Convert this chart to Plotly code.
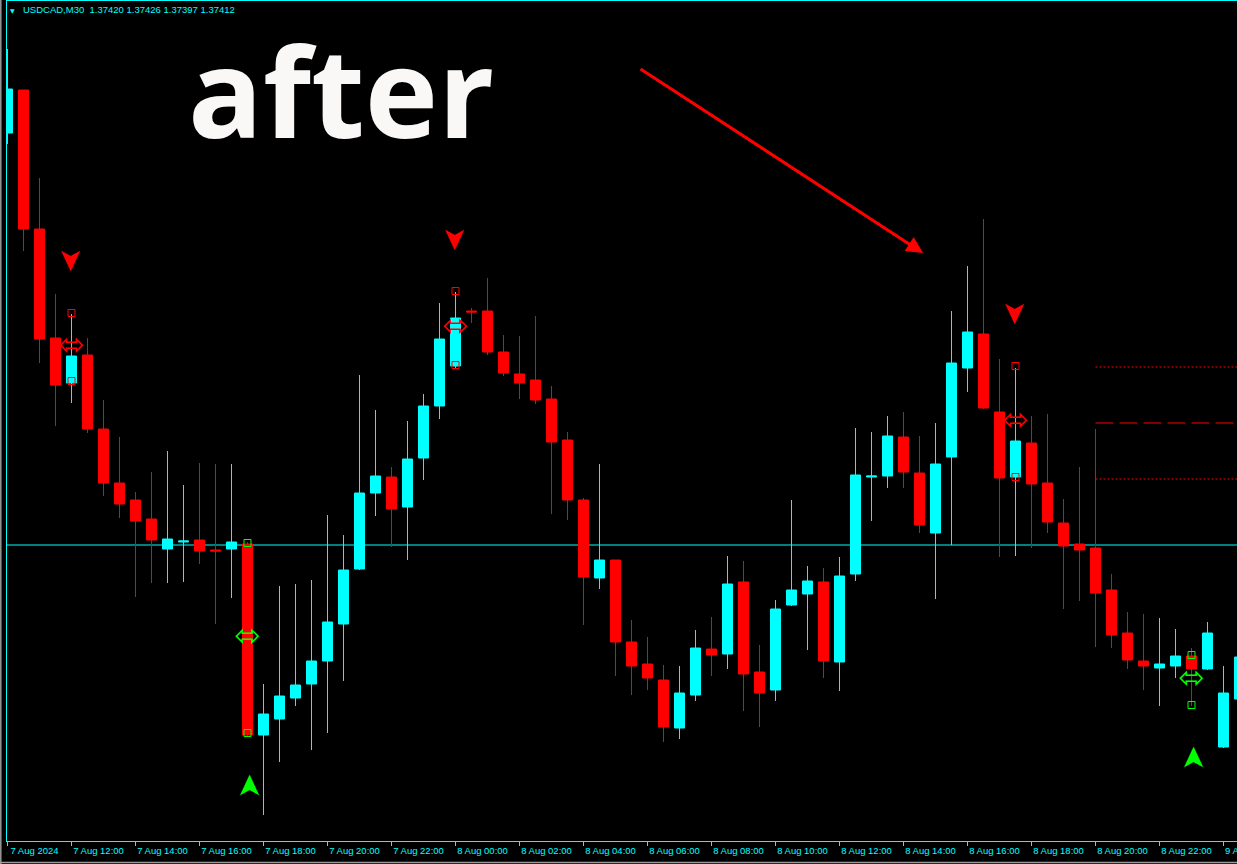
import plotly.graph_objects as go

# ---------------- data (USDCAD, M30) ----------------
opens = [1.37767, 1.37810, 1.37671, 1.37562, 1.37517, 1.37545, 1.37471, 1.37417, 1.37400, 1.37381,
         1.37351, 1.37358, 1.37360, 1.37350, 1.37351, 1.37356, 1.37165, 1.37181, 1.37202, 1.37216,
         1.37239, 1.37276, 1.37331, 1.37407, 1.37423, 1.37393, 1.37442, 1.37494, 1.37534, 1.37589,
         1.37589, 1.37548, 1.37526, 1.37520, 1.37501, 1.37460, 1.37400, 1.37322, 1.37340, 1.37258,
         1.37236, 1.37220, 1.37172, 1.37205, 1.37251, 1.37246, 1.37318, 1.37228, 1.37210, 1.37295,
         1.37306, 1.37318, 1.37238, 1.37326, 1.37423, 1.37424, 1.37463, 1.37427, 1.37367, 1.37443,
         1.37532, 1.37566, 1.37488, 1.37423, 1.37457, 1.37417, 1.37377, 1.37356, 1.37352, 1.37310,
         1.37267, 1.37239, 1.37232, 1.37234, 1.37244, 1.37231, 1.37153, 1.37201]
highs = [1.37851, 1.37810, 1.37722, 1.37606, 1.37586, 1.37562, 1.37500, 1.37463, 1.37408, 1.37428,
         1.37449, 1.37415, 1.37437, 1.37436, 1.37436, 1.37358, 1.37216, 1.37314, 1.37316, 1.37320,
         1.37385, 1.37365, 1.37525, 1.37490, 1.37433, 1.37479, 1.37506, 1.37597, 1.37608, 1.37592,
         1.37622, 1.37565, 1.37564, 1.37584, 1.37514, 1.37468, 1.37402, 1.37436, 1.37340, 1.37280,
         1.37263, 1.37235, 1.37234, 1.37270, 1.37283, 1.37344, 1.37339, 1.37255, 1.37300, 1.37400,
         1.37334, 1.37332, 1.37343, 1.37472, 1.37468, 1.37484, 1.37488, 1.37464, 1.37477, 1.37589,
         1.37634, 1.37681, 1.37541, 1.37532, 1.37484, 1.37486, 1.37401, 1.37433, 1.37471, 1.37326,
         1.37288, 1.37286, 1.37282, 1.37271, 1.37252, 1.37278, 1.37234, 1.37250]
lows = [1.37756, 1.37649, 1.37537, 1.37474, 1.37497, 1.37467, 1.37404, 1.37382, 1.37303, 1.37317,
        1.37317, 1.37318, 1.37336, 1.37276, 1.37302, 1.37164, 1.37085, 1.37138, 1.37194, 1.37150,
        1.37167, 1.37219, 1.37330, 1.37384, 1.37353, 1.37340, 1.37420, 1.37481, 1.37532, 1.37577,
        1.37545, 1.37524, 1.37501, 1.37496, 1.37386, 1.37380, 1.37275, 1.37311, 1.37224, 1.37205,
        1.37210, 1.37158, 1.37161, 1.37199, 1.37224, 1.37231, 1.37189, 1.37173, 1.37199, 1.37294,
        1.37250, 1.37222, 1.37209, 1.37319, 1.37379, 1.37412, 1.37412, 1.37367, 1.37301, 1.37355,
        1.37508, 1.37491, 1.37343, 1.37344, 1.37352, 1.37367, 1.37291, 1.37299, 1.37253, 1.37252,
        1.37231, 1.37210, 1.37194, 1.37222, 1.37194, 1.37230, 1.37152, 1.37195]
closes = [1.37811, 1.37671, 1.37561, 1.37515, 1.37544, 1.37471, 1.37417, 1.37396, 1.37379, 1.37360,
          1.37361, 1.37359, 1.37349, 1.37349, 1.37358, 1.37165, 1.37186, 1.37204, 1.37215, 1.37239,
          1.37278, 1.37330, 1.37407, 1.37424, 1.37391, 1.37441, 1.37494, 1.37561, 1.37582, 1.37588,
          1.37548, 1.37527, 1.37517, 1.37500, 1.37458, 1.37400, 1.37323, 1.37340, 1.37258, 1.37234,
          1.37222, 1.37173, 1.37207, 1.37252, 1.37245, 1.37316, 1.37226, 1.37207, 1.37291, 1.37310,
          1.37319, 1.37239, 1.37324, 1.37425, 1.37424, 1.37464, 1.37428, 1.37375, 1.37436, 1.37537,
          1.37568, 1.37492, 1.37422, 1.37459, 1.37416, 1.37378, 1.37354, 1.37350, 1.37307, 1.37265,
          1.37240, 1.37234, 1.37236, 1.37244, 1.37231, 1.37267, 1.37207, 1.37243]

tick_bars = [0, 4, 8, 12, 16, 20, 24, 28, 32, 36, 40, 44, 48, 52, 56, 60, 64, 68, 72, 76]
tick_labels = ["7 Aug 2024", "7 Aug 12:00", "7 Aug 14:00", "7 Aug 16:00", "7 Aug 18:00",
               "7 Aug 20:00", "7 Aug 22:00", "8 Aug 00:00", "8 Aug 02:00", "8 Aug 04:00",
               "8 Aug 06:00", "8 Aug 08:00", "8 Aug 10:00", "8 Aug 12:00", "8 Aug 14:00",
               "8 Aug 16:00", "8 Aug 18:00", "8 Aug 20:00", "8 Aug 22:00", "9 Aug 00:00"]

# indicator signals
sell_bars = [4, 28, 63]
sell_price = [1.37640, 1.37661, 1.37587]
buy_bars = [15, 74]
buy_price = [1.37114, 1.37142]
sell_box_bars = [4, 4, 28, 28, 63, 63]
sell_box_price = [1.37587, 1.37519, 1.37609, 1.37535, 1.37534, 1.37423]
buy_box_bars = [15, 15, 74, 74]
buy_box_price = [1.37357, 1.37167, 1.37245, 1.37195]
sell_lr_bars = [4, 28, 63]
sell_lr_price = [1.37553, 1.37572, 1.37478]
buy_lr_bars = [15, 74]
buy_lr_price = [1.37262, 1.37220]

hline_price = 1.37355
level_prices = [1.37533, 1.37477, 1.37421]
level_dashes = ["2px,2px", "18px,6px", "2px,2px"]
level_start_bar = 68

trend_arrow_bars = [39.47, 57.22]
trend_arrow_price = [1.37832, 1.37647]

header = "USDCAD,M30\u00a0\u00a01.37420 1.37426 1.37397 1.37412"

CYAN = "#00ffff"
RED = "#ff0000"
GREEN = "#00ff00"

# ---------------- figure ----------------
fig = go.Figure()
bars = list(range(len(opens)))
fig.add_trace(go.Candlestick(
    x=bars, open=opens, high=highs, low=lows, close=closes,
    increasing=dict(line=dict(color=CYAN, width=1), fillcolor=CYAN),
    decreasing=dict(line=dict(color=RED, width=1), fillcolor=RED),
    whiskerwidth=0, hoverinfo="none", showlegend=False))

fig.add_trace(go.Scatter(x=sell_box_bars, y=sell_box_price, mode="markers",
                         marker=dict(symbol="square-open", size=7, color=RED, line=dict(width=1)),
                         hoverinfo="none", showlegend=False))
fig.add_trace(go.Scatter(x=buy_box_bars, y=buy_box_price, mode="markers",
                         marker=dict(symbol="square-open", size=7, color=GREEN, line=dict(width=1)),
                         hoverinfo="none", showlegend=False))
fig.add_trace(go.Scatter(x=sell_lr_bars, y=sell_lr_price, mode="text", text=["\u2b04"] * len(sell_lr_bars),
                         textfont=dict(family="DejaVu Sans", size=31, color=RED),
                         textposition="middle center", hoverinfo="none", showlegend=False))
fig.add_trace(go.Scatter(x=buy_lr_bars, y=buy_lr_price, mode="text", text=["\u2b04"] * len(buy_lr_bars),
                         textfont=dict(family="DejaVu Sans", size=31, color=GREEN),
                         textposition="middle center", hoverinfo="none", showlegend=False))

shapes = [dict(type="line", xref="paper", x0=0, x1=1, yref="y", y0=hline_price, y1=hline_price,
               line=dict(color=CYAN, width=1), layer="below")]
for p, d in zip(level_prices, level_dashes):
    shapes.append(dict(type="line", xref="x", x0=level_start_bar, x1=level_start_bar + 12,
                       yref="y", y0=p, y1=p, line=dict(color=RED, width=1, dash=d)))
# window frame (gray)
shapes.append(dict(type="line", xref="paper", yref="paper", x0=-6.2 / 1230, x1=-6.2 / 1230,
                   y0=-23 / 840, y1=1 + 1 / 840, line=dict(color="#9a9a9a", width=1.5)))
shapes.append(dict(type="line", xref="paper", yref="paper", x0=-7 / 1230, x1=1,
                   y0=-21.5 / 840, y1=-21.5 / 840, line=dict(color="#9a9a9a", width=1.5)))

annotations = [
    dict(x=trend_arrow_bars[1], y=trend_arrow_price[1], xref="x", yref="y",
         ax=trend_arrow_bars[0], ay=trend_arrow_price[0], axref="x", ayref="y",
         text="", showarrow=True, arrowhead=2, arrowsize=1.1, arrowwidth=3,
         arrowcolor=RED, standoff=0, startstandoff=0),
    dict(x=0.2719, y=0.8952, xref="paper", yref="paper", text="<b>after</b>",
         showarrow=False, xanchor="center", yanchor="middle",
         font=dict(family="Open Sans", size=124, weight=800, color="#faf7f7")),
    dict(x=14 / 1230, y=1 - 9 / 840, xref="paper", yref="paper", text=header,
         showarrow=False, xanchor="left", yanchor="middle",
         font=dict(family="Liberation Sans", size=9.5, color=CYAN)),
    dict(x=5.5 / 1230, y=1 - 9.5 / 840, xref="paper", yref="paper", text="\u25bc",
         showarrow=False, xanchor="center", yanchor="middle",
         font=dict(family="DejaVu Sans", size=6, color=CYAN)),
    # last axis label, partly outside the window as in the terminal
    dict(x=tick_bars[-1], y=-9.5 / 840, xref="x", yref="paper", text=tick_labels[-1],
         showarrow=False, xanchor="left", yanchor="middle", xshift=-1,
         font=dict(family="Liberation Sans", size=9.5, color=CYAN)),
]
# signal arrows (sell = pointing down, buy = pointing up)
for b, p in zip(sell_bars, sell_price):
    annotations.append(dict(x=b, y=p, xref="x", yref="y", text="\u27a4", textangle=90,
                            showarrow=False, xanchor="center", yanchor="middle",
                            font=dict(family="DejaVu Sans", size=30, color=RED)))
for b, p in zip(buy_bars, buy_price):
    annotations.append(dict(x=b, y=p, xref="x", yref="y", text="\u27a4", textangle=-90,
                            showarrow=False, xanchor="center", yanchor="middle",
                            font=dict(family="DejaVu Sans", size=30, color=GREEN)))

fig.update_layout(
    width=1237, height=864, autosize=False,
    margin=dict(l=7, r=0, t=1, b=23, pad=0, autoexpand=False),
    paper_bgcolor="black", plot_bgcolor="black",
    boxgap=0.375, boxgroupgap=0,
    showlegend=False,
    shapes=shapes, annotations=annotations,
    xaxis=dict(range=[-0.03125, 76.84375], tickmode="array", tickvals=tick_bars, ticktext=tick_labels,
               ticks="outside", ticklen=4, tickwidth=1, tickcolor=CYAN,
               tickfont=dict(family="Liberation Sans", size=9.5, color=CYAN),
               ticklabelshift=27, ticklabelstandoff=-3, automargin=False,
               showline=True, linecolor=CYAN, linewidth=1, mirror=True,
               showgrid=False, zeroline=False, rangeslider=dict(visible=False), fixedrange=True),
    yaxis=dict(range=[1.37059, 1.37899], showline=True, linecolor=CYAN, linewidth=1,
               showticklabels=False, ticks="", showgrid=False, zeroline=False, fixedrange=True),
)

fig.write_html("out.html", config={"displayModeBar": False},
               post_script="document.body.style.margin='0';document.body.style.background='black';")
